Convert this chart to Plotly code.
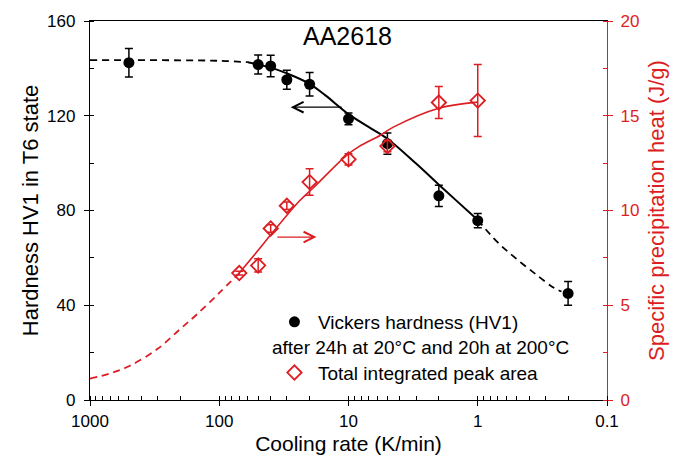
import math
import plotly.graph_objects as go

# ---------------- data ----------------
# Hardness measurements (left axis)
cooling_hv = [500, 50, 40, 30, 20, 10, 5, 2, 1, 0.2]
hv = [142.4, 141.6, 141.0, 135.2, 133.3, 118.7, 108.2, 86.2, 75.7, 45.0]
hv_err = [6.0, 4.0, 4.5, 4.0, 5.0, 2.5, 4.5, 4.5, 3.0, 5.0]

# Specific precipitation heat (right axis)
cooling_q = [70, 50, 40, 30, 20, 10, 5, 2, 1]
q = [6.7, 7.1, 9.05, 10.25, 11.5, 12.7, 13.4, 15.7, 15.8]
q_err = [0.1, 0.35, 0.2, 0.2, 0.7, 0.3, 0.3, 0.85, 1.9]

# Fitted hardness curve
hv_fit_left_x = [1000, 500, 200, 100, 60]
hv_fit_left_y = [143.5, 143.5, 143.4, 143.2, 142.6]
hv_fit_mid_x = [60, 50, 40, 30, 20, 15, 10, 7, 5, 3, 2, 1.5, 1]
hv_fit_mid_y = [142.6, 141.6, 140.3, 137.9, 133.5, 128.5, 120.7, 115.3, 110.3, 99.8, 90.9, 84.7, 76.0]
hv_fit_right_x = [1, 0.7, 0.5, 0.35, 0.26, 0.225]
hv_fit_right_y = [76.0, 66.5, 59.5, 52.8, 47.5, 45.8]

# Fitted heat curve
q_fit_left_x = [1000, 700, 500, 300, 200, 150, 100, 70]
q_fit_left_y = [1.13, 1.4, 1.78, 2.7, 3.75, 4.5, 5.65, 6.7]
q_fit_mid_x = [70, 50, 38, 24, 18.7, 10.4, 8.2, 5.7, 4.5, 2, 1]
q_fit_mid_y = [6.7, 7.9, 8.9, 10.5, 11.2, 12.9, 13.4, 13.96, 14.4, 15.4, 15.72]

# x axis ticks
x_tickvals = [1000, 100, 10, 1, 0.1]
x_ticktext = ["1000", "100", "10", "1", "0.1"]

# arrows: (tail cooling rate, head cooling rate, level)
hv_arrow = (11, 28, 123.6)
q_arrow = (36.5, 17.7, 8.6)

RED = "#dc1e23"
BLACK = "#000000"
FONT = "Liberation Sans, Arial, sans-serif"

fig = go.Figure()

dash = "7px,5px"
fig.add_trace(go.Scatter(x=hv_fit_left_x, y=hv_fit_left_y, mode="lines", line=dict(color=BLACK, width=1.8, dash=dash, shape="spline"), showlegend=False, hoverinfo="skip"))
fig.add_trace(go.Scatter(x=hv_fit_mid_x, y=hv_fit_mid_y, mode="lines", line=dict(color=BLACK, width=2, shape="spline"), showlegend=False, hoverinfo="skip"))
fig.add_trace(go.Scatter(x=hv_fit_right_x, y=hv_fit_right_y, mode="lines", line=dict(color=BLACK, width=1.8, dash=dash, shape="spline"), showlegend=False, hoverinfo="skip"))

fig.add_trace(go.Scatter(x=q_fit_left_x, y=q_fit_left_y, yaxis="y2", mode="lines", line=dict(color=RED, width=1.8, dash=dash, shape="spline"), showlegend=False, hoverinfo="skip"))
fig.add_trace(go.Scatter(x=q_fit_mid_x, y=q_fit_mid_y, yaxis="y2", mode="lines", line=dict(color=RED, width=1.6, shape="spline"), showlegend=False, hoverinfo="skip"))

fig.add_trace(go.Scatter(
    x=cooling_hv, y=hv, mode="markers", name="Vickers hardness (HV1)",
    legendgroup="a", legendrank=1,
    marker=dict(symbol="circle", size=11, color=BLACK),
    error_y=dict(type="data", array=hv_err, color=BLACK, thickness=1.5, width=4),
))
fig.add_trace(go.Scatter(
    x=cooling_q, y=q, yaxis="y2", mode="markers", name="Total integrated peak area",
    legendgroup="b", legendrank=2,
    marker=dict(symbol="diamond-open", size=11, color=RED, line=dict(width=1.8, color=RED)),
    error_y=dict(type="data", array=q_err, color=RED, thickness=1.5, width=4),
))

lx = math.log10
common_ax = dict(showgrid=False, zeroline=False, linewidth=1.3, ticklen=5, tickwidth=1.3)

fig.update_layout(
    width=678, height=463,
    margin=dict(l=90, r=71, t=17, b=63),
    paper_bgcolor="white", plot_bgcolor="white",
    font=dict(family=FONT, size=17, color=BLACK),
    showlegend=True,
    legend=dict(x=0.350, y=0.256, xanchor="left", yanchor="top", bgcolor="rgba(0,0,0,0)",
                font=dict(size=19), traceorder="grouped", tracegroupgap=23, itemwidth=37),
    xaxis=dict(type="log", range=[3, -1], autorange=False, tickvals=x_tickvals, ticktext=x_ticktext,
               ticks="outside", linecolor=BLACK, tickcolor=BLACK, mirror=True,
               minor=dict(ticks="inside", ticklen=4, dtick="D1", tickcolor=BLACK, tickwidth=1.2),
               title=dict(text="Cooling rate (K/min)", font=dict(size=21), standoff=6),
               tickfont=dict(size=17), **common_ax),
    yaxis=dict(range=[0, 160], autorange=False, dtick=40, tick0=0, ticks="outside",
               linecolor=BLACK, tickcolor=BLACK,
               minor=dict(ticks="inside", ticklen=4, dtick=20, tickcolor=BLACK, tickwidth=1.2),
               title=dict(text="Hardness HV1 in T6 state", font=dict(size=22), standoff=2),
               ticklabelstandoff=5, **common_ax),
    yaxis2=dict(overlaying="y", side="right", anchor="x", range=[0, 20], autorange=False, dtick=5, tick0=0,
                ticks="outside", linecolor=RED, tickcolor=RED, tickfont=dict(color=RED, size=17),
                minor=dict(ticks="inside", ticklen=4, dtick=2.5, tickcolor=RED, tickwidth=1.2),
                title=dict(text="Specific precipitation heat (J/g)", font=dict(size=22, color=RED), standoff=10),
                ticklabelstandoff=4, **common_ax),
    # overlay axes providing the inner half of crossing major ticks
    xaxis3=dict(type="log", overlaying="x", anchor="y", range=[3, -1], autorange=False, tickvals=x_tickvals,
                ticks="inside", ticklen=5, tickwidth=1.3, tickcolor=BLACK, showticklabels=False,
                showline=False, showgrid=False, zeroline=False),
    yaxis3=dict(overlaying="y", anchor="x", range=[0, 160], autorange=False, dtick=40, tick0=0,
                ticks="inside", ticklen=5, tickwidth=1.3, tickcolor=BLACK, showticklabels=False,
                showline=False, showgrid=False, zeroline=False),
    yaxis4=dict(overlaying="y", side="right", anchor="x", range=[0, 20], autorange=False, dtick=5, tick0=0,
                ticks="inside", ticklen=5, tickwidth=1.3, tickcolor=RED, showticklabels=False,
                showline=False, showgrid=False, zeroline=False),
)

fig.add_annotation(text="AA2618", xref="paper", yref="paper", x=0.499, y=0.96,
                   showarrow=False, font=dict(size=25, color=BLACK), xanchor="center", yanchor="middle")
fig.add_annotation(text="after 24h at 20°C and 20h at 200°C", xref="paper", yref="paper",
                   x=(270 - 90) / 517, y=(400 - 347) / 383, xanchor="left", yanchor="middle",
                   showarrow=False, font=dict(size=19, color=BLACK))

fig.add_annotation(x=lx(hv_arrow[1]), y=hv_arrow[2], ax=lx(hv_arrow[0]), ay=hv_arrow[2],
                   xref="x", yref="y", axref="x", ayref="y", text="", showarrow=True,
                   arrowhead=5, arrowsize=1.6, arrowwidth=1.3, arrowcolor=BLACK)
fig.add_annotation(x=lx(q_arrow[1]), y=q_arrow[2], ax=lx(q_arrow[0]), ay=q_arrow[2],
                   xref="x", yref="y2", axref="x", ayref="y2", text="", showarrow=True,
                   arrowhead=5, arrowsize=1.6, arrowwidth=1.3, arrowcolor=RED)

fig.write_html("out.html")
